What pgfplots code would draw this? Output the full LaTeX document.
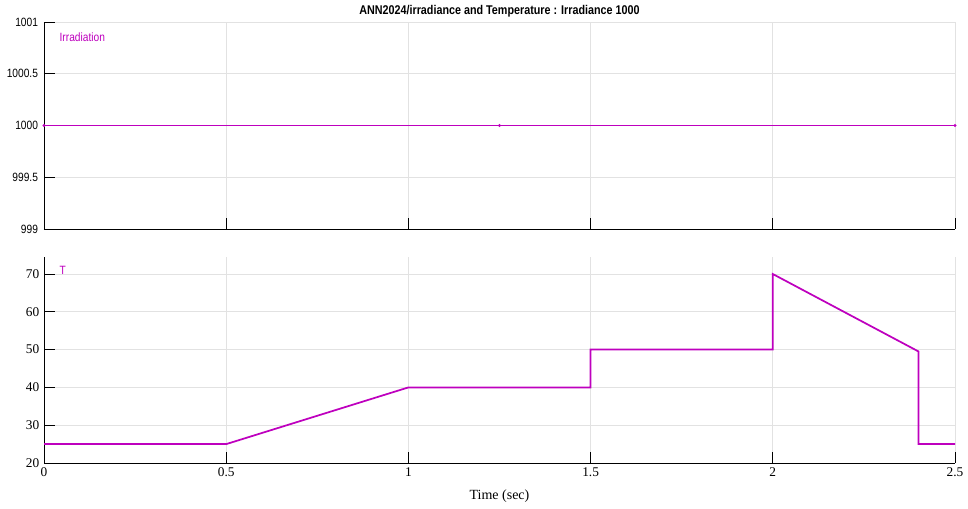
\documentclass[border=0pt]{standalone}
\usepackage{fontspec}
\setmainfont{Liberation Serif}
\newfontfamily\narrowsans[FakeStretch=0.85]{Liberation Sans}
\usepackage{pgfplots}
\pgfplotsset{compat=1.18}
\definecolor{mag}{RGB}{190,0,190}
\definecolor{gridc}{RGB}{226,226,226}
\pgfplotsset{
  myax/.style={
    scale only axis, width=683.25pt, anchor=south west,
    xmin=0, xmax=2.5, xtick={0,0.5,1,1.5,2,2.5},
    axis x line*=bottom, axis y line*=left,
    axis line style={black, line width=0.7pt, -},
    tick align=inside, tick style={black, line width=0.7pt},
    major tick length=8pt,
    grid=major, major grid style={gridc, line width=0.6pt},
    /pgf/number format/assume math mode=true,
  }
}
\begin{document}
\begin{tikzpicture}
\begin{axis}[myax, at={(33pt,209.25pt)}, height=155.25pt,
  ymin=999, ymax=1001, ytick={999,999.5,1000,1000.5,1001},
  yticklabels={999,999.5,1000,1000.5,1001},
  xticklabels={},
  yticklabel style={font=\narrowsans\fontsize{9}{10}\selectfont, xshift=-1pt},
]
\addplot[color=mag, line width=1.3pt, mark=*, mark size=0.3pt] table {
x y
0 1000
1.25 1000
2.5 1000
};
\addplot[color=mag, line width=1.3pt] coordinates {(0,1000) (2.5,1000)};
\node[anchor=west, text=mag, font=\narrowsans\fontsize{9}{10}\selectfont] at (rel axis cs:0.012,0.927) {Irradiation};
\end{axis}
\begin{axis}[myax, at={(33pt,33.75pt)}, height=154.5pt,
  ymin=20, ymax=74.5, ytick={20,30,40,50,60,70},
  xticklabels={0,0.5,1,1.5,2,2.5},
  ticklabel style={font=\fontsize{10}{10}\selectfont},
]
\addplot[color=mag, line width=1.3pt] coordinates {
(0,25) (0.5,25) (1,40) (1.5,40) (1.5,50) (2,50) (2,70) (2.4,49.5) (2.4,25) (2.5,25)};
\node[anchor=west, text=mag, font=\narrowsans\fontsize{9}{10}\selectfont] at (rel axis cs:0.012,0.937) {T};
\end{axis}
\node[font=\narrowsans\bfseries\fontsize{9.5}{10}\selectfont] at (374.6pt,372.75pt) {ANN2024/irradiance and Temperature : Irradiance 1000};
\node[font=\fontsize{10.5}{12}\selectfont] at (374.6pt,9pt) {Time (sec)};
\pgfresetboundingbox
\path[use as bounding box] (0,0) rectangle (726pt,381pt);
\end{tikzpicture}
\end{document}
